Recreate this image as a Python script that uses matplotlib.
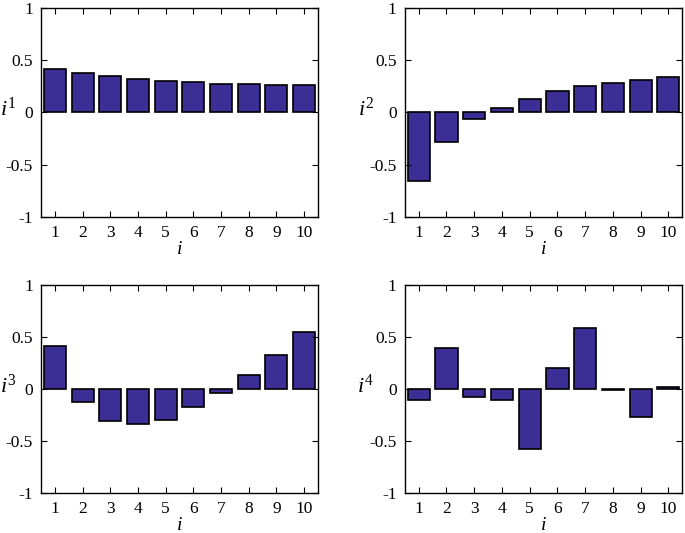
import matplotlib.pyplot as plt

# mode shapes, one list per panel
idx = [1, 2, 3, 4, 5, 6, 7, 8, 9, 10]
mode1 = [0.42, 0.38, 0.35, 0.32, 0.305, 0.29, 0.275, 0.272, 0.26, 0.26]
mode2 = [-0.66, -0.28, -0.065, 0.04, 0.13, 0.21, 0.255, 0.285, 0.315, 0.335]
mode3 = [0.415, -0.125, -0.31, -0.34, -0.295, -0.17, -0.035, 0.14, 0.325, 0.545]
mode4 = [-0.105, 0.40, -0.075, -0.105, -0.575, 0.20, 0.585, -0.005, -0.265, 0.02]
ylabels = ["$i^1$", "$i^2$", "$i^3$", "$i^4$"]

plt.rcParams["font.family"] = "Liberation Serif"
plt.rcParams["mathtext.fontset"] = "custom"
plt.rcParams["mathtext.it"] = "Liberation Serif:italic"
plt.rcParams["mathtext.rm"] = "Liberation Serif"

fig = plt.figure(figsize=(6.85, 5.33), dpi=100)

# axes boxes [left, bottom, width, height]
boxes = [[0.060, 0.593, 0.404, 0.392],
         [0.591, 0.593, 0.405, 0.392],
         [0.060, 0.075, 0.404, 0.390],
         [0.591, 0.075, 0.405, 0.390]]
label_x = [-0.12, -0.14, -0.12, -0.14]

for box, vals, lab, lx in zip(boxes, [mode1, mode2, mode3, mode4], ylabels, label_x):
    ax = fig.add_axes(box)
    ax.bar(idx, vals, width=0.8, color="#3b2f95", edgecolor="black", linewidth=1.2)
    ax.set_xlim(0.5, 10.5)
    ax.set_ylim(-1, 1)
    ax.set_xticks(idx)
    ax.set_yticks([-1, -0.5, 0, 0.5, 1])
    ax.set_yticklabels(["-1", "-0.5", "0", "0.5", "1"])
    ax.tick_params(direction="in", top=True, right=True, labelsize=12.5, length=4, width=0.8, pad=6)
    for s in ax.spines.values():
        s.set_linewidth(1.0)
    ax.set_xlabel("$i$", fontsize=14, labelpad=0)
    ax.set_ylabel(lab, fontsize=16, rotation=0)
    ax.yaxis.set_label_coords(lx, 0.46)

plt.savefig("out.png", dpi=100)
